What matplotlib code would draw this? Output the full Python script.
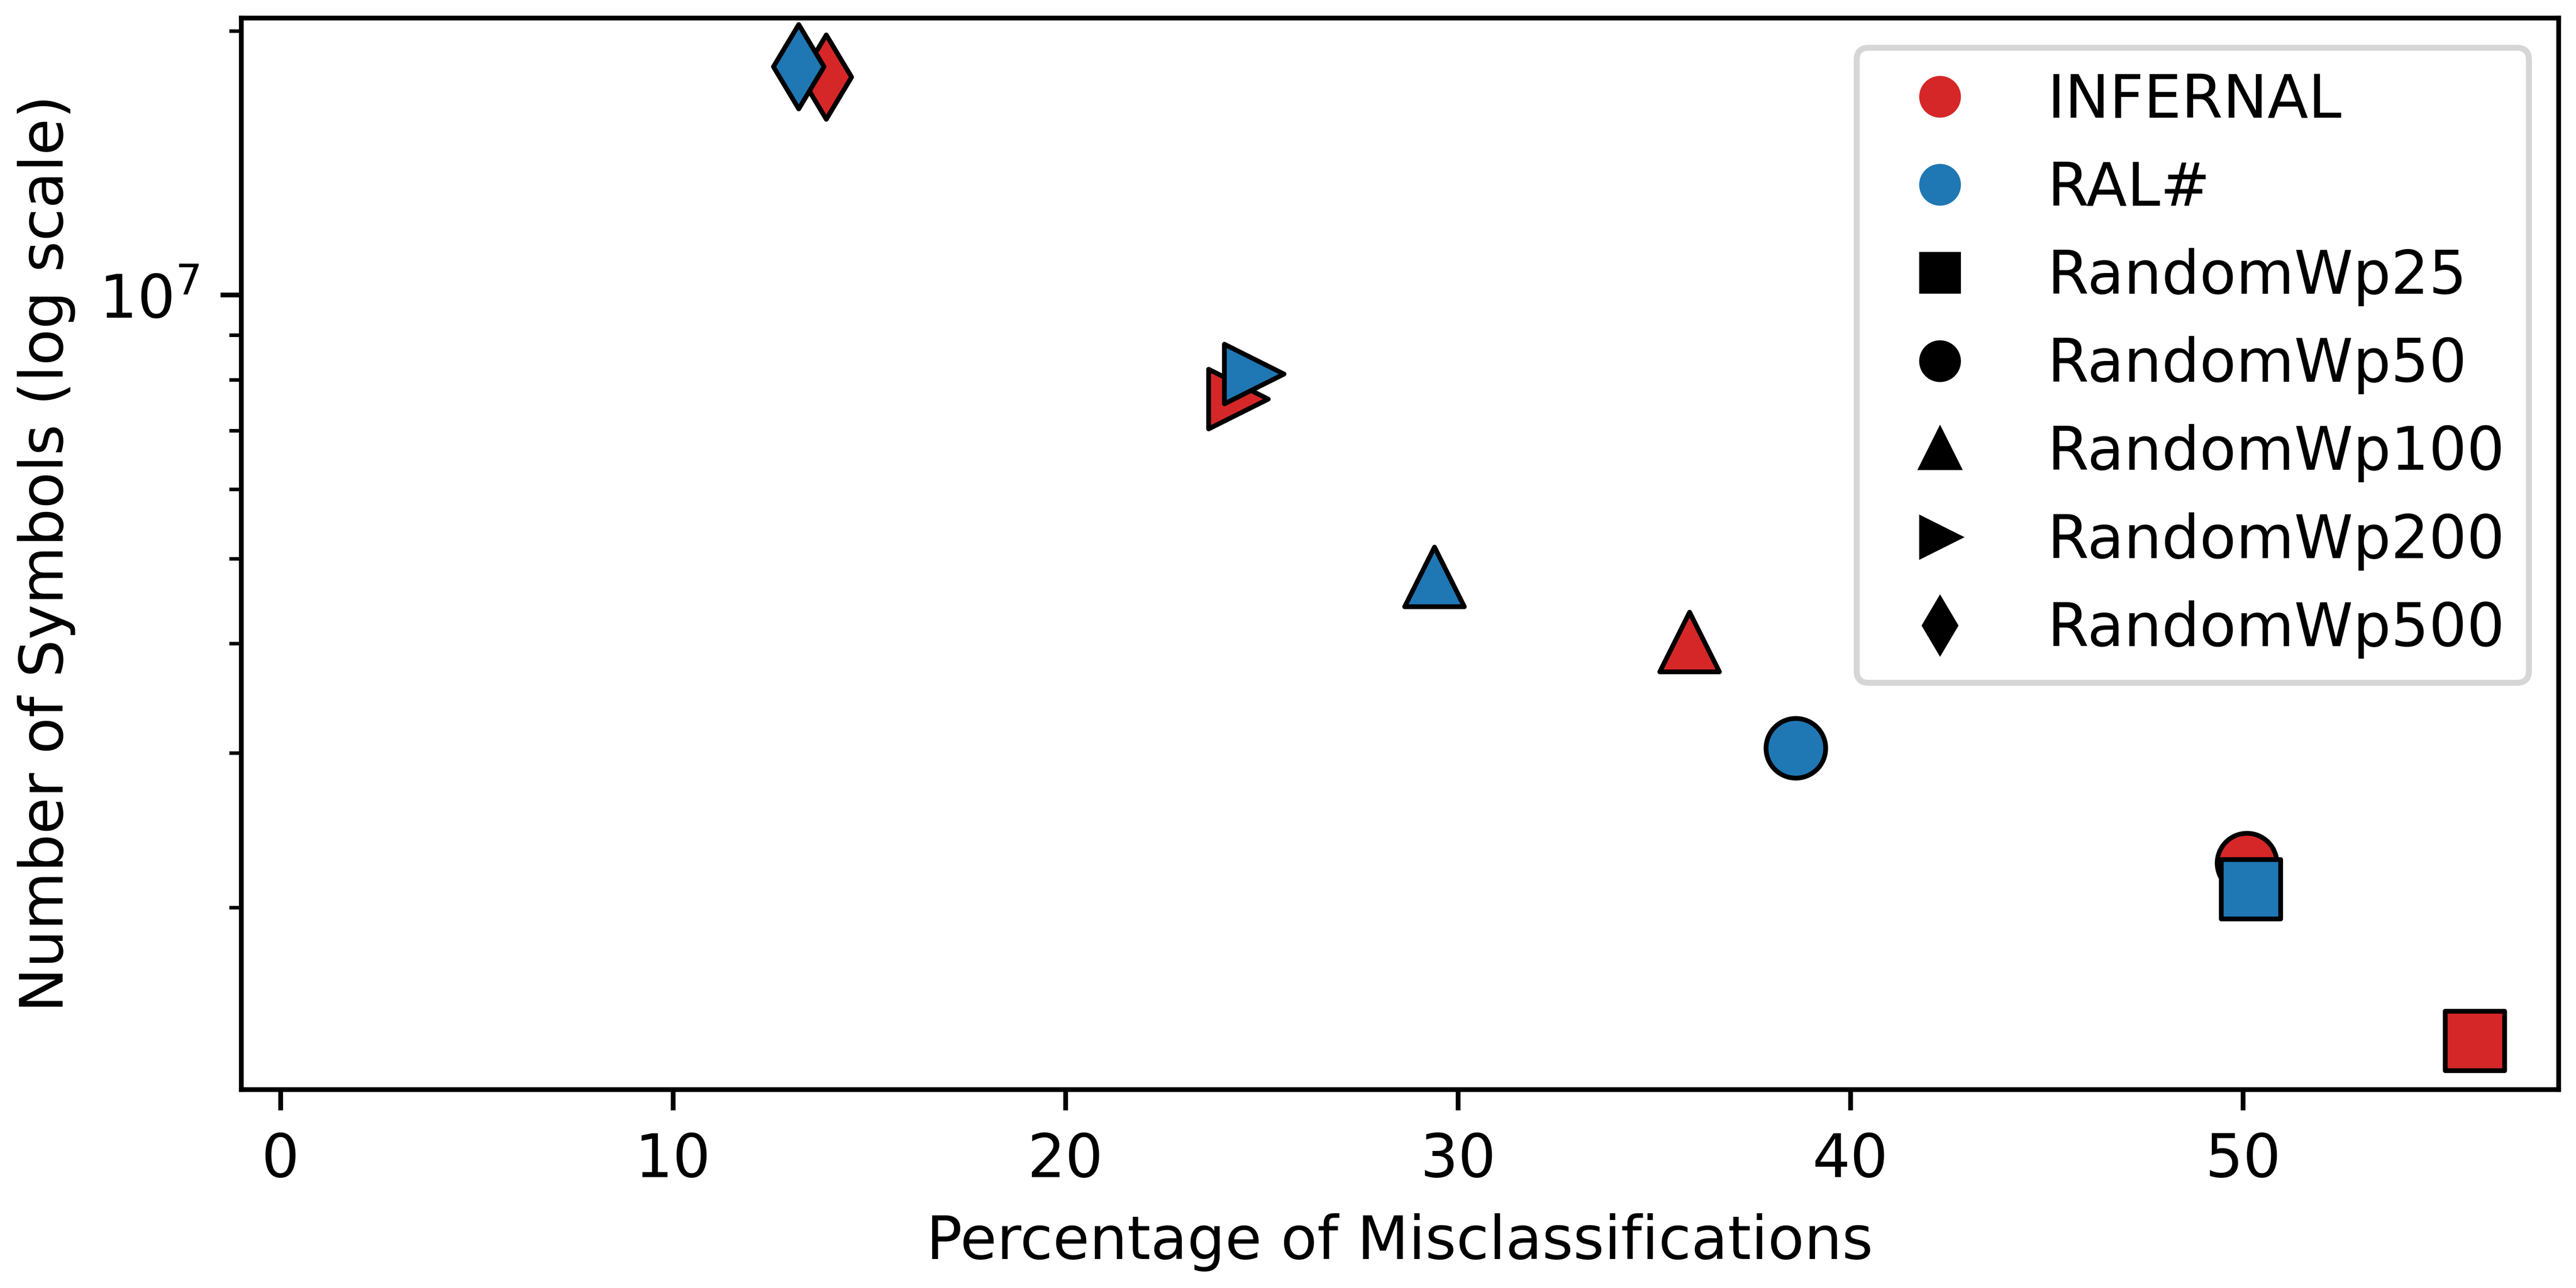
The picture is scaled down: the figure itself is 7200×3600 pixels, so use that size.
import matplotlib
matplotlib.use("Agg")
import matplotlib.pyplot as plt
from matplotlib.lines import Line2D

# Values
walks = ['RandomWp25', 'RandomWp50', 'RandomWp100', 'RandomWp200', 'RandomWp500']
walk_markers = ['s', 'o', '^', '>', 'd']

tools = ['INFERNAL', 'RAL#']
tool_colors = ['#d62728', '#1f77b4']

infernal_pct = [55.9, 50.1, 35.9, 24.4, 13.9]
infernal_symbols = [1.41e6, 2.25e6, 4.02e6, 7.61e6, 1.774e7]

ral_pct = [50.2, 38.6, 29.4, 24.8, 13.2]
ral_symbols = [2.10e6, 3.04e6, 4.77e6, 8.13e6, 1.822e7]

tool_pct = [infernal_pct, ral_pct]
tool_symbols = [infernal_symbols, ral_symbols]

fig, ax = plt.subplots(figsize=(6, 3))

for color, pcts, syms in zip(tool_colors, tool_pct, tool_symbols):
    for marker, x, y in zip(walk_markers, pcts, syms):
        ax.scatter(x, y, s=100, marker=marker, color=color,
                   edgecolors='black', linewidths=0.8)

ax.set_yscale('log')
ax.set_xlim(left=-1)

ax.set_xlabel('Percentage of Misclassifications')
ax.set_ylabel('Number of Symbols (log scale)')

# Legend: colours for tools, black shapes for walk lengths
handles = [Line2D([], [], linestyle='none', marker='o', color=c) for c in tool_colors]
handles += [Line2D([], [], linestyle='none', marker=m, color='black') for m in walk_markers]
ax.legend(handles, tools + walks, loc='upper right')

plt.subplots_adjust(left=0.0936, right=0.9932, bottom=0.1542, top=0.9861)
plt.savefig('out.png', dpi=1200)
